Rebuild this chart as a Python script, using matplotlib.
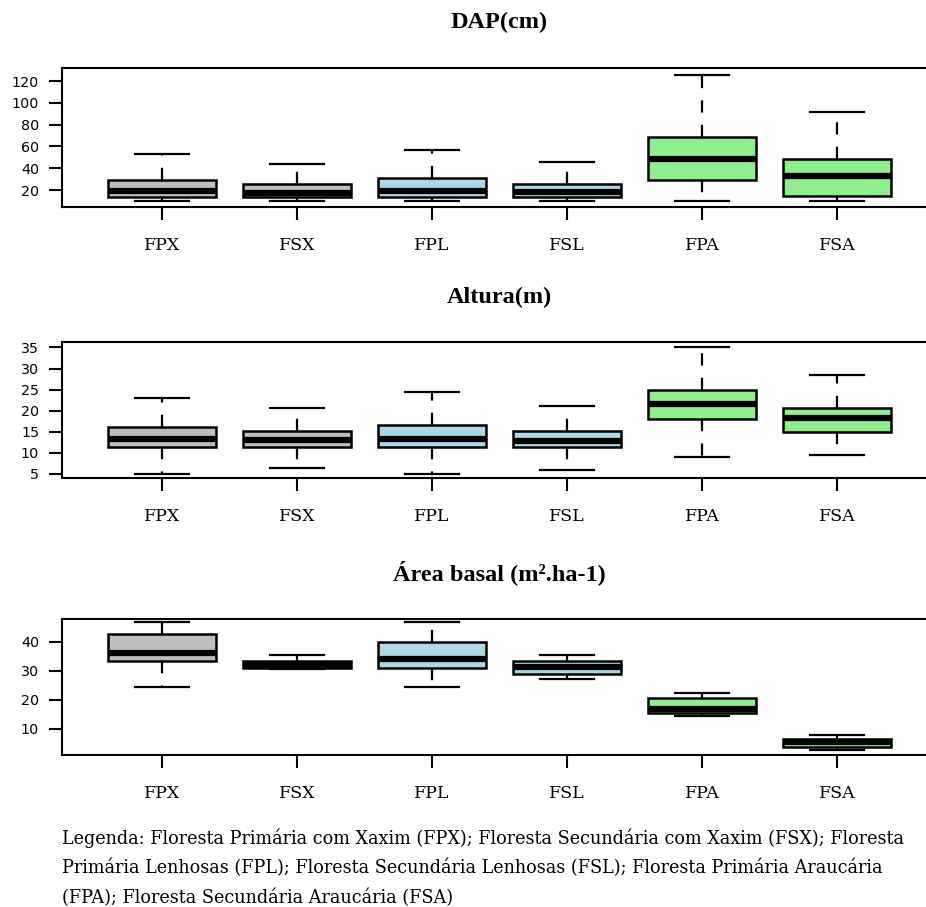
import matplotlib
matplotlib.use("Agg")
import matplotlib.pyplot as plt

categories = ["FPX", "FSX", "FPL", "FSL", "FPA", "FSA"]
colors = ["#bebebe", "#bebebe", "#add8e6", "#add8e6", "#90ee90", "#90ee90"]

# DAP(cm)
dap_whislo = [10, 10, 10, 10, 10, 10]
dap_q1 = [13.5, 13.5, 13.5, 13.5, 29, 14.5]
dap_med = [19, 17, 19, 18, 48.5, 33]
dap_q3 = [29, 25.5, 31, 25.5, 68.6, 48.5]
dap_whishi = [53, 44, 56.5, 45.6, 126, 91.6]

# Altura(m)
alt_whislo = [5, 6.4, 5, 5.9, 9, 9.5]
alt_q1 = [11.4, 11.4, 11.4, 11.4, 17.9, 15]
alt_med = [13.3, 13, 13.3, 12.8, 21.6, 18.3]
alt_q3 = [16.1, 15.2, 16.5, 15.2, 24.9, 20.6]
alt_whishi = [23, 20.6, 24.4, 21, 35, 28.5]

# Área basal
ab_whislo = [24.5, 30.6, 24.5, 27.2, 14.5, 2.8]
ab_q1 = [33.4, 31.1, 31, 29, 15.6, 3.6]
ab_med = [36.2, 32.2, 34, 31.4, 16.7, 5.4]
ab_q3 = [42.8, 33.4, 40, 33.4, 20.7, 6.6]
ab_whishi = [46.9, 35.5, 46.9, 35.5, 22.4, 7.9]

titles = ["DAP(cm)", "Altura(m)", "Área basal (m².ha-1)"]
yticks_list = [[20, 40, 60, 80, 100, 120], [5, 10, 15, 20, 25, 30, 35], [10, 20, 30, 40]]
ylims = [(4.4, 132), (4.0, 36.3), (1.0, 47.9)]

panels = [
    (dap_whislo, dap_q1, dap_med, dap_q3, dap_whishi),
    (alt_whislo, alt_q1, alt_med, alt_q3, alt_whishi),
    (ab_whislo, ab_q1, ab_med, ab_q3, ab_whishi),
]

W, H = 926, 907
fig = plt.figure(figsize=(W / 100, H / 100), dpi=100)

boxes_px = [(68, 207), (342, 478), (619, 755)]
left_px, right_px = 62, 937
title_y = [22, 297, 573]

for i, (stats_src, (top, bot)) in enumerate(zip(panels, boxes_px)):
    ax = fig.add_axes([left_px / W, 1 - bot / H, (right_px - left_px) / W, (bot - top) / H])
    wl, q1, med, q3, wh = stats_src
    stats = []
    for j, c in enumerate(categories):
        stats.append(dict(label=c, whislo=wl[j], q1=q1[j], med=med[j], q3=q3[j], whishi=wh[j], fliers=[]))
    bp = ax.bxp(stats, positions=range(1, 7), widths=0.8, patch_artist=True,
                showfliers=False,
                boxprops=dict(linewidth=1.8, edgecolor="black"),
                medianprops=dict(linewidth=4.5, color="black", solid_capstyle="butt"),
                whiskerprops=dict(linewidth=1.6, color="black", linestyle=(0, (5.5, 5.5))),
                capprops=dict(linewidth=1.6, color="black"),
                capwidths=0.4)
    for patch, col in zip(bp["boxes"], colors):
        patch.set_facecolor(col)
    ax.set_xlim(0.26, 6.74)
    ax.set_ylim(*ylims[i])
    ax.set_yticks(yticks_list[i])
    ax.set_xticks(range(1, 7))
    ax.set_xticklabels(categories)
    for lab in ax.get_xticklabels():
        lab.set_family("DejaVu Serif")
        lab.set_fontsize(12.5)
    for lab in ax.get_yticklabels():
        lab.set_family("DejaVu Sans")
        lab.set_fontsize(10.3)
    ax.tick_params(axis="both", direction="out", length=9.5, width=1.5, color="black")
    ax.tick_params(axis="x", pad=12)
    ax.tick_params(axis="y", pad=7)
    for s in ax.spines.values():
        s.set_linewidth(1.5)
    fig.text((left_px + right_px) / 2 / W, 1 - title_y[i] / H, titles[i],
             ha="center", va="center", family="Liberation Serif",
             fontweight="bold", fontsize=17.5)

legend_lines = [
    "Legenda: Floresta Primária com Xaxim (FPX); Floresta Secundária com Xaxim (FSX); Floresta",
    "Primária Lenhosas (FPL); Floresta Secundária Lenhosas (FSL); Floresta Primária Araucária",
    "(FPA); Floresta Secundária Araucária (FSA)",
]
for k, line in enumerate(legend_lines):
    fig.text(62 / W, 1 - (838 + 30 * k) / H, line, ha="left", va="center",
             family="DejaVu Serif", fontsize=12.7)

fig.savefig("out.png", dpi=100)
